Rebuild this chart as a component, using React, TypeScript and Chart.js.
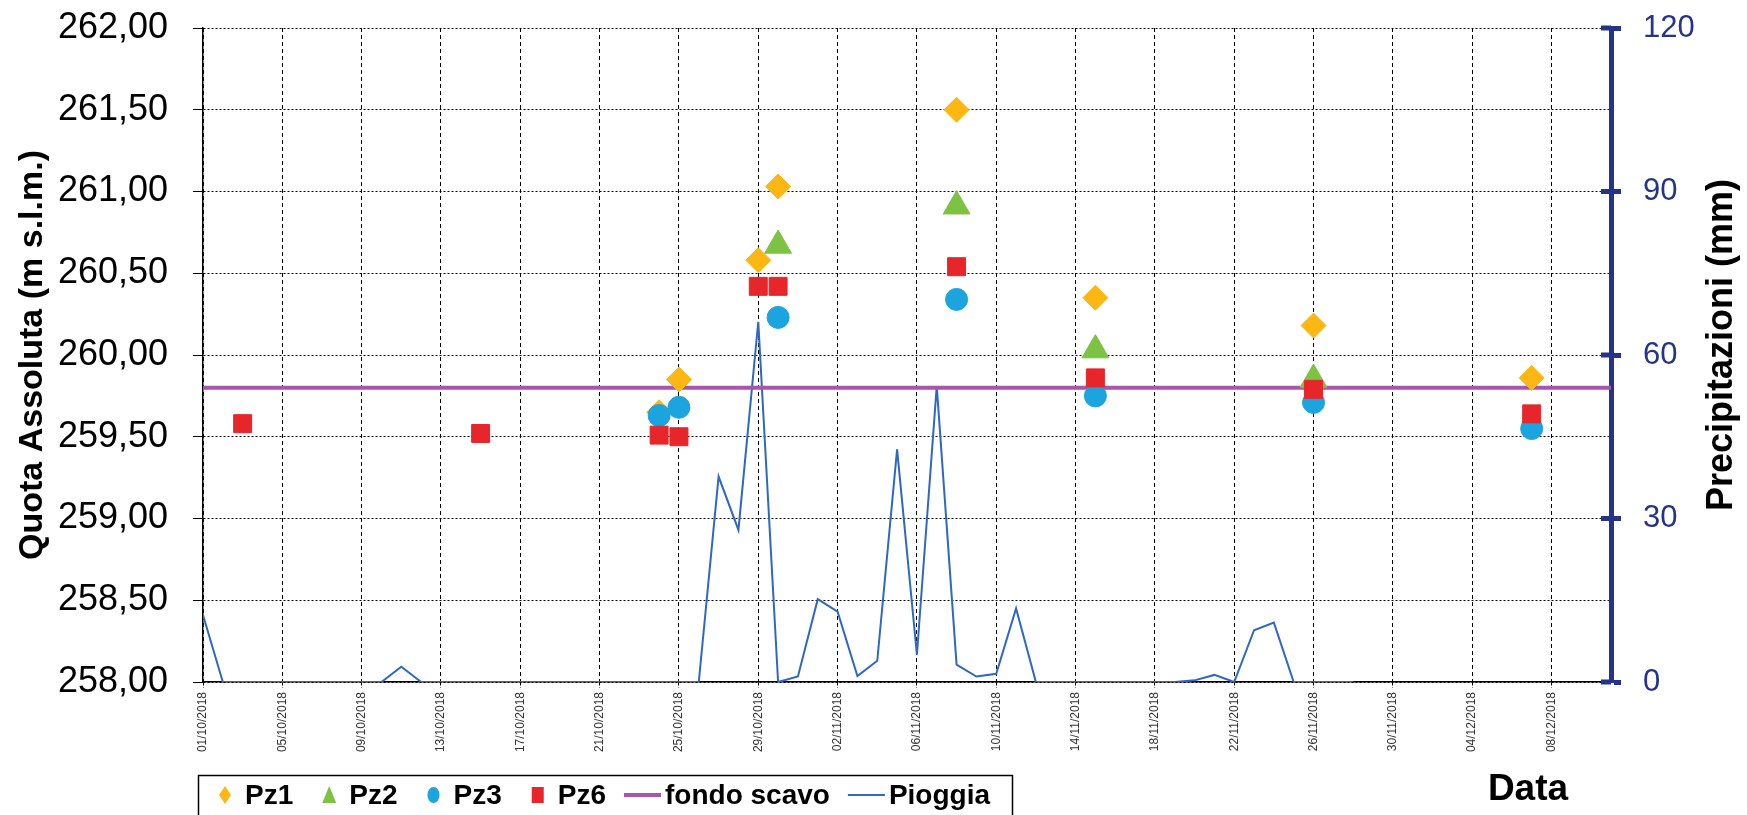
import { useEffect, useRef } from 'react';
import { Chart, registerables } from 'chart.js';

Chart.register(...registerables);

// ---------------- data ----------------
const axisStartDate = '01/10/2018';
const axisEndDate = '11/12/2018';

const xTickLabels = [
  '01/10/2018', '05/10/2018', '09/10/2018', '13/10/2018', '17/10/2018', '21/10/2018',
  '25/10/2018', '29/10/2018', '02/11/2018', '06/11/2018', '10/11/2018', '14/11/2018',
  '18/11/2018', '22/11/2018', '26/11/2018', '30/11/2018', '04/12/2018', '08/12/2018',
];

const leftTicks = [258, 258.5, 259, 259.5, 260, 260.5, 261, 261.5, 262];
const rightTicks = [0, 30, 60, 90, 120];

const measurementDates = [
  '03/10/2018', '15/10/2018', '24/10/2018', '25/10/2018', '29/10/2018',
  '30/10/2018', '08/11/2018', '15/11/2018', '26/11/2018', '07/12/2018',
];
const pz1 = [null, null, 259.65, 259.85, 260.58, 261.03, 261.5, 260.35, 260.18, 259.86];
const pz2 = [null, null, null, null, null, 260.67, 260.91, 260.03, 259.85, null];
const pz3 = [null, null, 259.63, 259.68, null, 260.23, 260.34, 259.75, 259.71, 259.55];
const pz6 = [259.58, 259.52, 259.51, 259.5, 260.42, 260.42, 260.54, 259.86, 259.79, 259.64];

const fondoScavo = 259.8;

// daily rainfall (mm) starting at rainStartDate
const rainStartDate = '01/10/2018';
const rainfall = [
  12.3, 0, 0, 0, 0, 0, 0, 0, 0, 0,
  2.8, 0, 0, 0, 0, 0, 0, 0, 0, 0,
  0, 0, 0, 0, 0, 0, 37.7, 27.9, 66.1, 0,
  1.0, 15.2, 12.9, 1.1, 3.9, 42.7, 5.0, 54.3, 3.2, 1.0,
  1.5, 13.5, 0, 0, 0, 0, 0, 0, 0, 0,
  0.3, 1.3, 0, 9.5, 10.9, 0, 0, 0, 0,
];

// ---------------- helpers ----------------
const ORIGIN = (() => {
  const [d, m, y] = axisStartDate.split('/').map(Number);
  return Date.UTC(y, m - 1, d);
})();
const DAY = 86400000;
function dayIndex(s: string): number {
  const [d, m, y] = s.split('/').map(Number);
  return Math.round((Date.UTC(y, m - 1, d) - ORIGIN) / DAY);
}
function dayLabel(n: number): string {
  const t = new Date(ORIGIN + Math.round(n) * DAY);
  const dd = String(t.getUTCDate()).padStart(2, '0');
  const mm = String(t.getUTCMonth() + 1).padStart(2, '0');
  return `${dd}/${mm}/${t.getUTCFullYear()}`;
}
function series(vals: (number | null)[]) {
  return measurementDates
    .map((d, i) => ({ x: dayIndex(d), y: vals[i] }))
    .filter((p) => p.y !== null);
}

const FONT = '"Liberation Sans", Arial, Helvetica, sans-serif';
const NAVY = '#25338A';

// custom drawing: legend box, right title, "Data" label, inner ticks of right axis
const extrasPlugin = {
  id: 'extras',
  afterDraw(chart: any) {
    const ctx: CanvasRenderingContext2D = chart.ctx;
    const area = chart.chartArea;
    const y1 = chart.scales.y1;
    ctx.save();

    // inward tick marks on the right axis
    ctx.strokeStyle = NAVY;
    ctx.lineWidth = 5;
    rightTicks.forEach((v) => {
      const py = y1.getPixelForValue(v);
      ctx.beginPath();
      ctx.moveTo(area.right - 10, py);
      ctx.lineTo(area.right, py);
      ctx.stroke();
    });

    // right title (reads bottom to top)
    ctx.fillStyle = '#000';
    ctx.font = `bold 36px ${FONT}`;
    ctx.textAlign = 'center';
    ctx.textBaseline = 'middle';
    ctx.translate(1722, (area.top + area.bottom) / 2 - 10);
    ctx.rotate(-Math.PI / 2);
    ctx.fillText('Precipitazioni (mm)', 0, 0);
    ctx.setTransform(1, 0, 0, 1, 0, 0);

    // x axis title
    ctx.font = `bold 37px ${FONT}`;
    ctx.fillText('Data', 1528, 790);

    // legend
    const cy = 795;
    ctx.lineWidth = 1.5;
    ctx.strokeStyle = '#000';
    ctx.strokeRect(198.5, 775.5, 814, 60);
    ctx.font = `bold 28px ${FONT}`;
    ctx.textAlign = 'left';
    let cur = 207;
    chart.data.datasets.forEach((ds: any) => {
      const color = ds.borderColor;
      if (ds.showLine) {
        ctx.strokeStyle = color;
        ctx.lineWidth = ds.borderWidth;
        ctx.beginPath();
        ctx.moveTo(cur, cy);
        ctx.lineTo(cur + 37, cy);
        ctx.stroke();
        cur += 41;
      } else {
        const cx = cur + 18;
        ctx.fillStyle = color;
        ctx.beginPath();
        if (ds.pointStyle === 'rectRot') {
          ctx.moveTo(cx, cy - 9);
          ctx.lineTo(cx + 6, cy);
          ctx.lineTo(cx, cy + 9);
          ctx.lineTo(cx - 6, cy);
          ctx.closePath();
        } else if (ds.pointStyle === 'triangle') {
          ctx.moveTo(cx, cy - 9);
          ctx.lineTo(cx + 7, cy + 8);
          ctx.lineTo(cx - 7, cy + 8);
          ctx.closePath();
        } else if (ds.pointStyle === 'circle') {
          ctx.ellipse(cx, cy, 6, 8, 0, 0, Math.PI * 2);
        } else {
          ctx.rect(cx - 6, cy - 8, 12, 16);
        }
        ctx.fill();
        cur += 38;
      }
      ctx.fillStyle = '#000';
      ctx.fillText(ds.label, cur, cy + 1);
      cur += ctx.measureText(ds.label).width + 18;
    });

    ctx.restore();
  },
};

export default function App() {
  const ref = useRef<HTMLCanvasElement | null>(null);

  useEffect(() => {
    if (!ref.current) return;
    Chart.defaults.font.family = FONT;

    const xMin = dayIndex(axisStartDate);
    const xMax = dayIndex(axisEndDate);
    const rainStart = dayIndex(rainStartDate);

    const chart = new Chart(ref.current, {
      type: 'scatter',
      data: {
        datasets: [
          {
            label: 'Pz1',
            data: series(pz1),
            pointStyle: 'rectRot',
            pointRadius: 12.5,
            backgroundColor: '#FDB714',
            borderColor: '#FDB714',
            borderWidth: 1,
            order: 4,
          },
          {
            label: 'Pz2',
            data: series(pz2),
            pointStyle: 'triangle',
            pointRadius: 15.5,
            backgroundColor: '#7DC243',
            borderColor: '#7DC243',
            borderWidth: 1,
            order: 3,
          },
          {
            label: 'Pz3',
            data: series(pz3),
            pointStyle: 'circle',
            pointRadius: 11,
            backgroundColor: '#1CA4DE',
            borderColor: '#1CA4DE',
            borderWidth: 1,
            order: 2,
          },
          {
            label: 'Pz6',
            data: series(pz6),
            pointStyle: 'rect',
            pointRadius: 12.7,
            backgroundColor: '#E6262A',
            borderColor: '#E6262A',
            borderWidth: 1,
            order: 1,
          },
          {
            label: 'fondo scavo',
            data: [
              { x: xMin, y: fondoScavo },
              { x: xMax, y: fondoScavo },
            ],
            showLine: true,
            pointRadius: 0,
            borderColor: '#A855AD',
            borderWidth: 4,
            order: 5,
          },
          {
            label: 'Pioggia',
            data: rainfall.map((v, i) => ({ x: rainStart + i, y: v })),
            showLine: true,
            pointRadius: 0,
            borderColor: '#2F67C4',
            borderWidth: 2,
            tension: 0,
            yAxisID: 'y1',
            order: 6,
          },
        ] as any,
      },
      plugins: [extrasPlugin],
      options: {
        animation: false,
        responsive: false,
        devicePixelRatio: 1,
        events: [],
        layout: { padding: { top: 28, left: 0, right: 0, bottom: 0 } },
        plugins: {
          legend: { display: false },
          tooltip: { enabled: false },
        },
        scales: {
          x: {
            type: 'linear',
            min: xMin,
            max: xMax,
            afterBuildTicks: (scale: any) => {
              scale.ticks = xTickLabels.map((l) => ({ value: dayIndex(l) }));
            },
            afterFit: (scale: any) => {
              scale.height = 133;
            },
            ticks: {
              autoSkip: false,
              minRotation: 90,
              maxRotation: 90,
              padding: 4,
              color: '#333',
              font: { size: 12 },
              callback: (v: any) => dayLabel(Number(v)),
            },
            grid: {
              color: '#000',
              lineWidth: 1,
              tickLength: 6,
              tickColor: '#000',
              tickBorderDash: [3, 2],
            },
            border: { color: '#000', width: 1.5, dash: [4, 3] },
          },
          y: {
            type: 'linear',
            position: 'left',
            min: 258,
            max: 262,
            afterBuildTicks: (scale: any) => {
              scale.ticks = leftTicks.map((v) => ({ value: v }));
            },
            afterFit: (scale: any) => {
              scale.width = 203;
              scale.paddingTop = 0;
              scale.paddingBottom = 0;
            },
            ticks: {
              padding: 25,
              color: '#000',
              font: { size: 36 },
              callback: (v: any) => Number(v).toFixed(2).replace('.', ','),
            },
            grid: {
              color: '#000',
              lineWidth: 1,
              tickLength: 10,
              tickColor: '#000',
            },
            border: { color: '#000', width: 1.5, dash: [2, 2] },
            title: {
              display: true,
              text: 'Quota Assoluta (m s.l.m.)',
              color: '#000',
              font: { size: 34, weight: 'bold' },
              padding: { top: 12, bottom: 0 },
            },
          },
          y1: {
            type: 'linear',
            position: 'right',
            min: 0,
            max: 120,
            afterBuildTicks: (scale: any) => {
              scale.ticks = rightTicks.map((v) => ({ value: v }));
            },
            afterFit: (scale: any) => {
              scale.width = 136;
              scale.paddingTop = 0;
              scale.paddingBottom = 0;
            },
            ticks: {
              padding: 22,
              color: NAVY,
              font: { size: 31 },
            },
            grid: {
              drawOnChartArea: false,
              tickLength: 10,
              tickWidth: 5,
              tickColor: NAVY,
            },
            border: { color: NAVY, width: 5 },
          },
        },
      } as any,
    });

    return () => chart.destroy();
  }, []);

  return (
    <div style={{ position: 'fixed', left: 0, top: 0, width: 1747, height: 815, background: '#fff' }}>
      <canvas ref={ref} width={1747} height={815} style={{ width: 1747, height: 815, display: 'block' }} />
    </div>
  );
}
